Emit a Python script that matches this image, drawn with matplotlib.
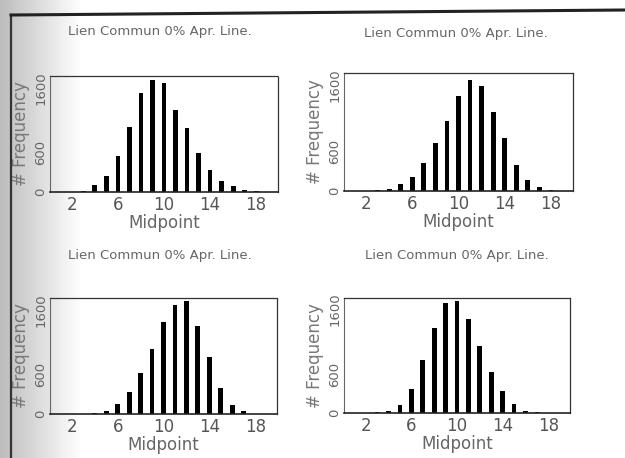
import numpy as np
import matplotlib
matplotlib.use("Agg")
import matplotlib.pyplot as plt
import matplotlib.transforms as mtrans
from matplotlib.lines import Line2D

midpoints = list(range(1, 20))

# counts per midpoint (4 runs)
freq_a = [3, 3, 10, 100, 240, 550, 1000, 1520, 1720, 1680, 1260, 975, 605, 333, 170, 97, 25, 10, 3]
freq_b = [2, 3, 8, 30, 100, 215, 415, 730, 1050, 1430, 1670, 1580, 1195, 805, 390, 165, 55, 8, 3]
freq_c = [2, 2, 3, 10, 50, 160, 345, 625, 1000, 1415, 1670, 1730, 1350, 880, 400, 140, 50, 5, 2]
freq_d = [2, 3, 10, 25, 120, 375, 825, 1310, 1700, 1740, 1455, 1040, 630, 335, 135, 35, 10, 4, 2]

title = "Lien Commun 0% Apr. Line."
yticks = [0, 600, 1600]
xticks = [2, 6, 10, 14, 18]

W, H = 625, 458
fig = plt.figure(figsize=(W / 100, H / 100), dpi=100)
fig.patch.set_facecolor("white")

# scanned page edge: grey strip on the left + border lines
bg = fig.add_axes([0, 0, 0.13, 1], zorder=-5)
grad = np.linspace(0.74, 1.0, 64).reshape(1, -1)
bg.imshow(grad, cmap="gray", vmin=0, vmax=1, aspect="auto", extent=[0, 1, 0, 1])
bg.axis("off")
fig.add_artist(Line2D([11 / W, 11 / W], [0, 1 - 15 / H], color="#333", lw=1.6))
fig.add_artist(Line2D([11 / W, 1], [1 - 15 / H, 1 - 10 / H], color="#222", lw=2.2))

panels = [
    (freq_a, [50 / W, 1 - 192 / H, 228 / W, 116 / H], (160 / W, 1 - 32 / H)),
    (freq_b, [344 / W, 1 - 191 / H, 229 / W, 118 / H], (456 / W, 1 - 33 / H)),
    (freq_c, [50 / W, 1 - 414 / H, 227 / W, 116 / H], (160 / W, 1 - 255 / H)),
    (freq_d, [344 / W, 1 - 413 / H, 226 / W, 115 / H], (457 / W, 1 - 256 / H)),
]

up = mtrans.ScaledTranslation(0, 6 / 100, fig.dpi_scale_trans)

for freq, rect, tpos in panels:
    ax = fig.add_axes(rect)
    ax.set_facecolor("none")
    ax.bar(midpoints, freq, width=0.42, color="black")
    ax.set_xlim(0.1, 19.9)
    ax.set_ylim(0, 1780)
    ax.set_xticks(xticks)
    ax.set_yticks(yticks)
    ax.set_xticklabels([str(t) for t in xticks], fontsize=12, color="#555")
    ax.set_yticklabels([str(t) for t in yticks], fontsize=9.5, color="#666",
                       rotation=90, va="center")
    for lab in ax.get_yticklabels():
        lab.set_transform(lab.get_transform() + up)
    ax.tick_params(length=0)
    ax.tick_params(axis="x", pad=3)
    ax.tick_params(axis="y", pad=2)
    ax.set_xlabel("Midpoint", fontsize=12, color="#666", labelpad=0)
    ax.set_ylabel("# Frequency", fontsize=12, color="#777", labelpad=3)
    for side in ["top", "right"]:
        ax.spines[side].set_linestyle((0, (2, 1)))
        ax.spines[side].set_linewidth(0.9)
        ax.spines[side].set_color("#333")
    ax.spines["left"].set_color("#666")
    ax.spines["bottom"].set_color("#222")
    ax.spines["bottom"].set_linewidth(1.2)
    fig.text(tpos[0], tpos[1], title, fontsize=9.5, color="#666",
             ha="center", va="center")

fig.savefig("out.png", dpi=100)
